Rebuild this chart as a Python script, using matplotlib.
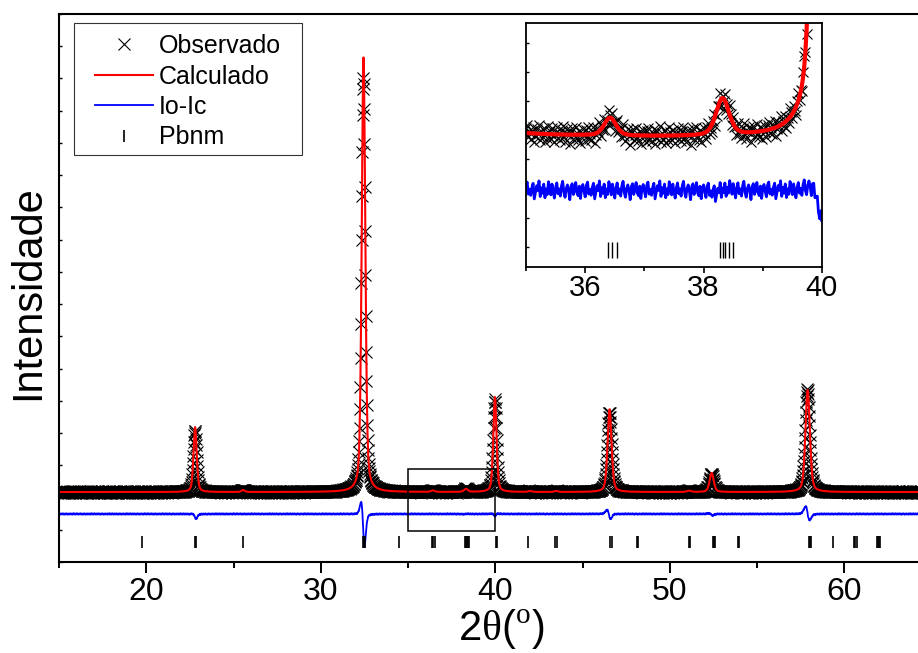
import numpy as np
import matplotlib
matplotlib.use('Agg')
import matplotlib.pyplot as plt
from matplotlib.ticker import MultipleLocator, NullFormatter
from matplotlib.patches import Rectangle

plt.rcParams['font.family'] = ['Liberation Sans', 'DejaVu Sans']
plt.rcParams['mathtext.fontset'] = 'custom'
plt.rcParams['mathtext.rm'] = 'Liberation Serif'

# scan (2theta, degrees)
two_theta = np.arange(15.0, 65.0001, 0.02)
background = 2170
eta = 0.4  # pseudo-voigt mixing

# calculated peaks
calc_pos = [22.80, 25.55, 32.45, 36.42, 38.32, 39.98, 42.00, 43.50, 46.55, 51.10, 52.40, 57.90]
calc_hgt = [2016, 62, 13556, 45, 93, 2947, 30, 30, 2575, 40, 589, 3164]
calc_fwhm = [0.22, 0.22, 0.24, 0.24, 0.26, 0.22, 0.25, 0.25, 0.27, 0.28, 0.28, 0.30]

# observed peaks
obs_pos = [22.795, 25.55, 32.442, 36.42, 38.33, 39.98, 42.00, 43.50, 46.54, 51.10, 52.39, 57.885]
obs_hgt = [1900, 62, 12850, 45, 93, 2885, 30, 30, 2482, 40, 558, 3195]
obs_fwhm = [0.22, 0.22, 0.245, 0.24, 0.25, 0.2235, 0.25, 0.25, 0.28, 0.28, 0.29, 0.30]

# counting noise on the observed points
noise = [8, -12, 15, -4, -20, 6, 18, -9, 3, -15, 11, 22, -6, -18, 4, 13, -2, -24,
         9, 16, -11, 1, 19, -7, -14, 10, -21, 5, 14, -3, -17, 12, 20, -10, 2, -13,
         7, 17, -22, -5, 11, -1, 23, -16, 6, -8, 15, -19, 3, -11, 21]

# Pbnm reflections
reflections = [19.74, 22.80, 22.86, 25.56, 32.40, 32.46, 32.52, 34.50,
               36.39, 36.45, 36.53, 38.27, 38.32, 38.36, 38.43, 38.49,
               40.05, 40.12, 41.90, 43.45, 43.52, 46.60, 46.70, 48.12, 48.18,
               51.12, 51.18, 52.45, 52.52, 52.60, 53.88, 53.95,
               57.98, 58.04, 58.10, 59.35, 60.55, 60.63, 60.70,
               61.85, 61.92, 62.00, 62.07]

diff_offset = 1490
tick_y = 620
main_ylim = (0, 17000)

zoom_box = (35, 40, 960, 2885)
inset_ylim = (1847, 2459)
inset_diff_offset = 2040
inset_tick_y = 1889


def profile(pos, hgt, fwhm):
    y = np.full(two_theta.shape, float(background))
    for p, h, w in zip(pos, hgt, fwhm):
        d = ((two_theta - p) / w) ** 2
        y += h * (eta / (1 + 4 * d) + (1 - eta) * np.exp(-4 * np.log(2) * d))
    return y


calc = profile(calc_pos, calc_hgt, calc_fwhm)
obs = profile(obs_pos, obs_hgt, obs_fwhm) + np.resize(noise, two_theta.size)
diff = obs - calc

fig = plt.figure(figsize=(9.18, 6.53), dpi=100)
ax = fig.add_axes([59 / 918, 91 / 653, 0.9505, 548 / 653])

h_obs, = ax.plot(two_theta, obs, ls='none', marker='x', ms=8.7, mew=0.8, color='black')
h_calc, = ax.plot(two_theta, calc, color='red', lw=1.5)
h_diff, = ax.plot(two_theta, diff + diff_offset, color='blue', lw=1.3)
h_ref, = ax.plot(reflections, np.full(len(reflections), tick_y), ls='none',
                 marker='|', ms=8.6, mew=1.2, color='black')

x0, x1, y0, y1 = zoom_box
ax.add_patch(Rectangle((x0, y0), x1 - x0, y1 - y0, fill=False, ec='black', lw=1.1, zorder=5))

ax.set_xlim(15, 65)
ax.set_ylim(*main_ylim)
ax.xaxis.set_major_locator(MultipleLocator(10))
ax.xaxis.set_minor_locator(MultipleLocator(5))
ax.yaxis.set_major_locator(MultipleLocator(1000))
ax.yaxis.set_major_formatter(NullFormatter())
ax.tick_params(axis='x', which='major', direction='out', length=8, width=1.4, labelsize=23, pad=3)
ax.tick_params(axis='x', which='minor', direction='out', length=4.5, width=1.4)
ax.tick_params(axis='y', which='major', direction='in', length=2.5, width=1.0)
ax.spines['right'].set_visible(False)
for s in ['left', 'bottom', 'top']:
    ax.spines[s].set_linewidth(1.5)

fig.text(28 / 918, 1 - 293 / 653, 'Intensidade', rotation=90, ha='center', va='center', fontsize=30)
fig.text(501 / 918, 2 / 653, r'2$\mathrm{\theta}$($^{\mathrm{o}}$)', ha='center', va='bottom', fontsize=30)

leg = ax.legend([h_obs, h_calc, h_diff, h_ref], ['Observado', 'Calculado', 'Io-Ic', 'Pbnm'],
                loc='upper left', bbox_to_anchor=(95 / 918, 1 - 34 / 653),
                bbox_transform=fig.transFigure, frameon=False, borderpad=0, borderaxespad=0,
                fontsize=18, handlelength=2.3, handletextpad=0.25, labelspacing=0.26)
fig.add_artist(Rectangle((74 / 918, 1 - 155 / 653), 228 / 918, 132 / 653,
                         transform=fig.transFigure, fill=False, ec='#333333', lw=0.8))

# inset
axi = fig.add_axes([526 / 918, 386 / 653, 296 / 918, 244 / 653])
axi.plot(two_theta, obs, ls='none', marker='x', ms=6.8, mew=0.8, color='black')
axi.plot(two_theta, calc, color='red', lw=3)
axi.plot(two_theta, diff + inset_diff_offset, color='blue', lw=2)
axi.plot(reflections, np.full(len(reflections), inset_tick_y), ls='none',
         marker='|', ms=11.5, mew=1.0, color='black')
axi.set_xlim(x0, x1)
axi.set_ylim(*inset_ylim)
axi.xaxis.set_major_locator(MultipleLocator(2))
axi.xaxis.set_minor_locator(MultipleLocator(1))
axi.yaxis.set_major_locator(MultipleLocator(73))
axi.yaxis.set_major_formatter(NullFormatter())
axi.tick_params(axis='x', which='major', direction='out', length=4, width=1.2, labelsize=21, pad=1)
axi.tick_params(axis='x', which='minor', direction='out', length=3, width=1.2)
axi.tick_params(axis='y', direction='in', length=2, width=1.0)
for s in axi.spines.values():
    s.set_linewidth(1.3)

fig.savefig('out.png', dpi=100)
